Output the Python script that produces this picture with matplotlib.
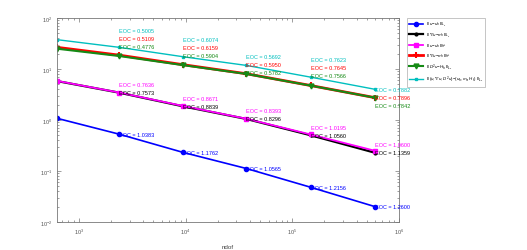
import matplotlib
matplotlib.use("Agg")
import matplotlib.pyplot as plt
from matplotlib.ticker import LogLocator

plt.rcParams['font.family'] = ['Liberation Sans', 'DejaVu Sans']
plt.rcParams['mathtext.fontset'] = 'custom'
plt.rcParams['mathtext.rm'] = 'Liberation Sans'
plt.rcParams['mathtext.it'] = 'Liberation Sans:italic'

# data
ndof = [625, 2401, 9409, 37249, 148225, 591361]

err_L2 = [1.08, 0.526, 0.2326, 0.1118, 0.0481, 0.0201]
err_grad_L2 = [5.80, 3.43, 1.860, 1.047, 0.503, 0.229]
err_H1 = [5.85, 3.45, 1.891, 1.057, 0.521, 0.250]
err_grad_H1 = [26.6, 18.67, 12.18, 8.07, 4.75, 2.75]
err_hess = [25.0, 17.96, 11.93, 7.99, 4.73, 2.74]
err_total = [37.6, 26.57, 17.44, 11.75, 6.93, 4.01]

eoc_L2 = [1.0383, 1.1762, 1.0565, 1.2156, 1.2600]
eoc_grad_L2 = [0.7573, 0.8839, 0.8296, 1.0560, 1.1359]
eoc_H1 = [0.7636, 0.8671, 0.8393, 1.0195, 1.0600]
eoc_grad_H1 = [0.5109, 0.6159, 0.5950, 0.7645, 0.7896]
eoc_hess = [0.4776, 0.5904, 0.5782, 0.7566, 0.7842]
eoc_total = [0.5005, 0.6074, 0.5692, 0.7623, 0.7882]

labels = [
    r'$\|\ u\!-\!u_h\ \|_{L_2}$',
    r'$\|\ \nabla u\!-\!\sigma_h\ \|_{L_2}$',
    r'$\|\ u\!-\!u_h\ \|_{H^1}$',
    r'$\|\ \nabla u\!-\!\sigma_h\ \|_{H^1}$',
    r'$\|\ D^2u\!-\!H_h\ \|_{L_2}$',
    r'$\|\ (u,\nabla u,D^2u)\!-\!(u_h,\sigma_h,H_h)\ \|_{L_2}$',
]

cyan = '#00bfbf'
green = '#158a15'

fig = plt.figure(figsize=(5.27, 2.51), dpi=100)
ax = fig.add_axes([57 / 527, 28 / 251, 342 / 527, 204 / 251])

ax.loglog(ndof, err_L2, ls='-', marker='o', color='blue', lw=1.2, ms=3, label=labels[0])
ax.loglog(ndof, err_grad_L2, ls='-', marker='.', color='black', lw=1.6, ms=4, label=labels[1])
ax.loglog(ndof, err_H1, ls='-', marker='s', color='magenta', lw=1.3, ms=2.5, label=labels[2])
ax.loglog(ndof, err_grad_H1, ls='-', marker='+', color='red', lw=2, ms=4.5, mew=1.5, label=labels[3])
ax.loglog(ndof, err_hess, ls='-', marker='v', color=green, lw=1.5, ms=3.5, label=labels[4])
ax.loglog(ndof, err_total, ls='-', marker='s', color=cyan, lw=1, ms=2, label=labels[5])

# EOC labels, stacked above the upper curves
fs = 4
cyan_off = [17, 17, 9, 18, 0]
for k in range(5):
    x = ndof[k + 1]
    off = cyan_off[k]
    for txt, col, dy in [(eoc_total[k], cyan, off),
                         (eoc_grad_H1[k], 'red', off - 8),
                         (eoc_hess[k], green, off - 16)]:
        ax.annotate('EOC = %.4f' % txt, (x, err_total[k + 1]), xytext=(0, dy),
                    textcoords='offset pixels', color=col, fontsize=fs,
                    va='center', ha='left')
    ax.annotate('EOC = %.4f' % eoc_H1[k], (x, err_grad_L2[k + 1]), xytext=(0, 8),
                textcoords='offset pixels', color='magenta', fontsize=fs,
                va='center', ha='left')
    ax.annotate('EOC = %.4f' % eoc_grad_L2[k], (x, err_grad_L2[k + 1]), xytext=(0, 0),
                textcoords='offset pixels', color='black', fontsize=fs,
                va='center', ha='left')
    ax.annotate('EOC = %.4f' % eoc_L2[k], (x, err_L2[k + 1]), xytext=(0, 0),
                textcoords='offset pixels', color='blue', fontsize=fs,
                va='center', ha='left')

ax.set_xlim(625, 1e6)
ax.set_ylim(1e-2, 1e2)
ax.set_xlabel('ndof', fontsize=4.5, color='#444444', labelpad=6)
ax.yaxis.set_major_locator(LogLocator(base=10, numticks=10))
ax.tick_params(which='both', direction='in', top=True, right=True,
               labelsize=4, colors='#555555', width=0.4)
ax.tick_params(which='major', length=3)
ax.tick_params(which='minor', length=1.5)
for s in ax.spines.values():
    s.set_color('#777777')
    s.set_linewidth(0.6)

leg = fig.legend(loc='upper left', bbox_to_anchor=(407 / 527, 1 - 19 / 251),
                 fontsize=3.2, frameon=True, fancybox=False, edgecolor='#999999',
                 handlelength=3.2, labelspacing=0.55, borderpad=0.5, handletextpad=0.5,
                 borderaxespad=0)
leg.get_frame().set_linewidth(0.5)

fig.savefig('out.png', dpi=100)
